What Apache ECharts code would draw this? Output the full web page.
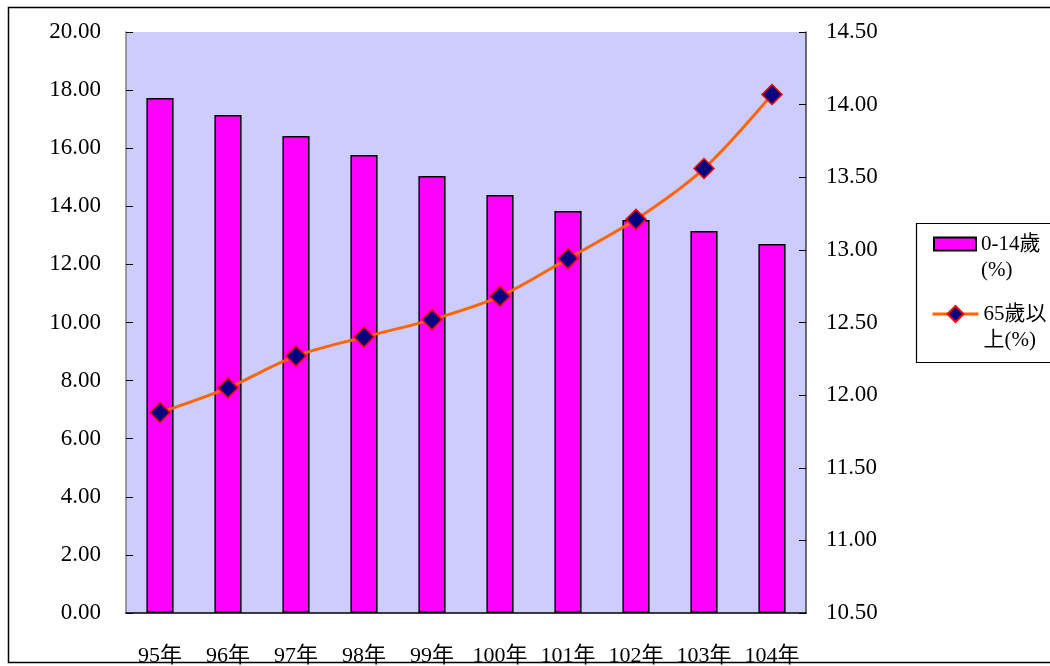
<!DOCTYPE html>
<html>
<head>
<meta charset="utf-8">
<script src="https://cdn.jsdelivr.net/npm/echarts@6/dist/echarts.min.js"></script>
<style>
html,body{margin:0;padding:0;background:#fff;}
#chart{width:1050px;height:666px;}
</style>
</head>
<body>
<div id="chart"></div>
<script>
var categories = ['95年','96年','97年','98年','99年','100年','101年','102年','103年','104年'];
var youth = [17.73, 17.14, 16.42, 15.77, 15.04, 14.39, 13.84, 13.53, 13.15, 12.70];
var elderly = [11.88, 12.05, 12.27, 12.40, 12.52, 12.68, 12.94, 13.21, 13.56, 14.07];
var seriesNames = ['0-14歲(%)', '65歲以上(%)'];
var legendLabels = {'0-14歲(%)': '\n0-14歲\n(%)', '65歲以上(%)': '\n65歲以\n上(%)'};

var FONT = '"Liberation Serif", "Noto Sans CJK TC", serif';
var legendText = {fontFamily: FONT, fontSize: 21, color: '#000', lineHeight: 26};
var chart = echarts.init(document.getElementById('chart'));
chart.setOption({
  animation: false,
  backgroundColor: '#ffffff',
  textStyle: {fontFamily: FONT},
  graphic: [
    {type: 'rect', shape: {x: 8.5, y: 7.5, width: 1100, height: 655}, style: {fill: 'none', stroke: '#000', lineWidth: 1.5}, z: 100},
    {type: 'rect', shape: {x: 916.5, y: 223.5, width: 200, height: 139}, style: {fill: 'none', stroke: '#000', lineWidth: 1.2}, z: 100}
  ],
  grid: {left: 126, right: 244, top: 32, bottom: 53, show: true, backgroundColor: '#CCCCFF', borderWidth: 0,
         containLabel: false, outerBoundsMode: 'none'},
  legend: [
    {
      orient: 'vertical', left: 933, top: 205, padding: 0,
      itemWidth: 42, itemHeight: 13, icon: 'rect',
      data: [seriesNames[0]],
      formatter: function (n) { return legendLabels[n]; },
      textStyle: legendText
    },
    {
      orient: 'vertical', left: 931, top: 275, padding: 0,
      itemWidth: 46, itemHeight: 20,
      lineStyle: {width: 3, color: '#FF6600'},
      data: [seriesNames[1]],
      formatter: function (n) { return legendLabels[n]; },
      textStyle: legendText
    }
  ],
  xAxis: {
    type: 'category',
    data: categories,
    axisLine: {lineStyle: {color: '#000', width: 1.5}},
    axisTick: {inside: true, length: 7, lineStyle: {color: '#000'}},
    axisLabel: {fontFamily: FONT, fontSize: 22, color: '#000', margin: 32, interval: 0}
  },
  yAxis: [
    {
      type: 'value', min: 0, max: 20, interval: 2,
      splitLine: {show: false},
      axisLine: {show: true, lineStyle: {color: '#808080', width: 1.5}},
      axisTick: {show: true, inside: true, length: 7, lineStyle: {color: '#000'}},
      axisLabel: {fontFamily: FONT, fontSize: 23, color: '#000', margin: 25, formatter: function (v) { return v.toFixed(2); }}
    },
    {
      type: 'value', min: 10.5, max: 14.5, interval: 0.5,
      splitLine: {show: false},
      axisLine: {show: true, lineStyle: {color: '#404040', width: 1.5}},
      axisTick: {show: true, inside: true, length: 7, lineStyle: {color: '#000'}},
      axisLabel: {fontFamily: FONT, fontSize: 23, color: '#000', margin: 20, formatter: function (v) { return v.toFixed(2); }}
    }
  ],
  series: [
    {
      name: seriesNames[0], type: 'bar', yAxisIndex: 0, data: youth,
      barWidth: '40%',
      itemStyle: {color: '#FF00FF', borderColor: '#000', borderWidth: 1.5}
    },
    {
      name: seriesNames[1], type: 'line', yAxisIndex: 1, data: elderly,
      smooth: 0.3,
      symbol: 'diamond', symbolSize: 20,
      lineStyle: {color: '#FF6600', width: 3},
      itemStyle: {color: '#000080', borderColor: '#FF0000', borderWidth: 1.5},
      z: 5
    }
  ]
});
</script>
</body>
</html>
